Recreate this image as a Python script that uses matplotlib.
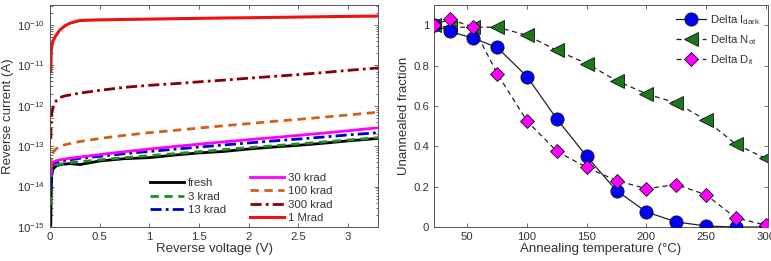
import matplotlib
matplotlib.use("Agg")
import matplotlib.pyplot as plt
import numpy as np
from matplotlib.ticker import FixedLocator, NullFormatter

plt.rcParams['font.family'] = ['Liberation Sans', 'DejaVu Sans']
plt.rcParams['mathtext.fontset'] = 'custom'
plt.rcParams['mathtext.rm'] = 'Liberation Sans'
plt.rcParams['mathtext.it'] = 'Liberation Sans:italic'

# ---------------- Left panel data ----------------
voltage = [0.008, 0.012, 0.018, 0.03, 0.06, 0.1, 0.15, 0.2, 0.3, 0.5, 0.75, 1.0,
           1.25, 1.5, 1.75, 2.0, 2.25, 2.5, 2.75, 3.0, 3.3]
i_fresh = [1.1e-15, 8e-15, 2e-14, 2.7e-14, 3.2e-14, 3.5e-14, 3.6e-14, 3.7e-14, 3.5e-14, 4.3e-14,
           4.9e-14, 5.2e-14, 6.0e-14, 6.8e-14, 7.4e-14, 8.5e-14, 9.5e-14, 1.05e-13, 1.18e-13, 1.35e-13, 1.55e-13]
i_3k = [3.5e-15, 1.5e-14, 2.5e-14, 3e-14, 3.4e-14, 3.6e-14, 3.7e-14, 3.9e-14, 4.1e-14, 4.6e-14,
        5.2e-14, 5.8e-14, 6.5e-14, 7.3e-14, 8.2e-14, 9.2e-14, 1.02e-13, 1.14e-13, 1.27e-13, 1.42e-13, 1.62e-13]
i_13k = [8e-15, 2e-14, 3e-14, 3.6e-14, 4e-14, 4.2e-14, 4.4e-14, 4.6e-14, 5e-14, 5.6e-14,
         6.5e-14, 7.4e-14, 8.4e-14, 9.5e-14, 1.07e-13, 1.2e-13, 1.35e-13, 1.5e-13, 1.68e-13, 1.9e-13, 2.15e-13]
i_30k = [2e-14, 3e-14, 3.6e-14, 4e-14, 4.3e-14, 4.6e-14, 4.8e-14, 5e-14, 5.4e-14, 6.2e-14,
         7.3e-14, 8.5e-14, 9.8e-14, 1.12e-13, 1.28e-13, 1.45e-13, 1.63e-13, 1.85e-13, 2.1e-13, 2.4e-13, 2.85e-13]
i_100k = [3e-14, 5e-14, 6e-14, 7e-14, 8.5e-14, 1e-13, 1.08e-13, 1.15e-13, 1.3e-13, 1.55e-13,
          1.85e-13, 2.15e-13, 2.45e-13, 2.8e-13, 3.2e-13, 3.6e-13, 4.1e-13, 4.6e-13, 5.2e-13, 5.9e-13, 6.9e-13]
i_300k = [1.5e-13, 4e-13, 6.5e-13, 9e-13, 1.3e-12, 1.6e-12, 1.75e-12, 1.85e-12, 2.05e-12, 2.4e-12,
          2.85e-12, 3.2e-12, 3.5e-12, 3.9e-12, 4.3e-12, 4.8e-12, 5.3e-12, 5.9e-12, 6.6e-12, 7.5e-12, 8.6e-12]
i_1M = [7e-12, 2e-11, 3e-11, 4e-11, 5.5e-11, 7.5e-11, 9.5e-11, 1.1e-10, 1.28e-10, 1.33e-10,
        1.36e-10, 1.39e-10, 1.42e-10, 1.45e-10, 1.48e-10, 1.5e-10, 1.53e-10, 1.56e-10, 1.59e-10, 1.62e-10, 1.65e-10]
current_ticks = [1e-15, 1e-14, 1e-13, 1e-12, 1e-11, 1e-10]
voltage_ticks = [0, 0.5, 1, 1.5, 2, 2.5, 3]
voltage_ticklabels = ['0', '0.5', '1', '1.5', '2', '2.5', '3']

# ---------------- Right panel data ----------------
anneal_temp = [22, 35, 55, 75, 100, 125, 150, 175, 200, 225, 250, 275, 300]
delta_idark = [1.0, 0.97, 0.935, 0.89, 0.745, 0.535, 0.35, 0.18, 0.075, 0.025, 0.005, 0.0, 0.0]
delta_not = [1.0, 0.99, 0.99, 0.99, 0.95, 0.875, 0.81, 0.725, 0.66, 0.615, 0.53, 0.41, 0.34]
delta_dit = [1.0, 1.03, 0.99, 0.76, 0.525, 0.375, 0.295, 0.23, 0.19, 0.21, 0.16, 0.045, 0.01]
temp_ticks = [50, 100, 150, 200, 250, 300]
frac_ticks = [0, 0.2, 0.4, 0.6, 0.8, 1.0]
frac_ticklabels = ['0', '0.2', '0.4', '0.6', '0.8', '1']

W, H = 771, 261
fig = plt.figure(figsize=(W / 100, H / 100), dpi=100)
fs = 8.2
lfs = 9.5
tc = '#333333'

def style(ax):
    for s in ax.spines.values():
        s.set_color('#555555')
        s.set_linewidth(0.7)
    ax.tick_params(direction='in', which='both', top=True, right=True,
                   labelsize=fs, colors='#555555', labelcolor=tc, width=0.6)
    ax.tick_params(which='major', length=3)
    ax.tick_params(which='minor', length=1.8)

# Left
ax1 = fig.add_axes([50 / W, 1 - 227 / H, (378 - 50) / W, (227 - 5) / H])
style(ax1)
l_fresh, = ax1.plot(voltage, i_fresh, color='black', lw=2.0, ls='-')
l_3k, = ax1.plot(voltage, i_3k, color='#1f8f1f', lw=2.0, ls=(0, (3, 2)))
l_13k, = ax1.plot(voltage, i_13k, color='#0000c0', lw=2.0, ls=(0, (4, 1.5, 1, 1.5)))
l_30k, = ax1.plot(voltage, i_30k, color='#ff00ff', lw=2.0, ls='-')
l_100k, = ax1.plot(voltage, i_100k, color='#d2601a', lw=2.0, ls=(0, (3, 2)))
l_300k, = ax1.plot(voltage, i_300k, color='#8b0000', lw=2.0, ls=(0, (4, 1.5, 1, 1.5)))
l_1M, = ax1.plot(voltage, i_1M, color='#ee1111', lw=2.2, ls='-')
ax1.set_yscale('log')
ax1.set_xlim(0, 3.3)
ax1.set_ylim(1e-15, 3.1e-10)
ax1.set_xticks(voltage_ticks)
ax1.set_xticklabels(voltage_ticklabels)
ax1.set_yticks(current_ticks)
minor = [m * 10.0 ** e for e in range(-15, -9) for m in range(2, 10) if m * 10.0 ** e <= 3.1e-10]
ax1.yaxis.set_minor_locator(FixedLocator(minor))
ax1.yaxis.set_minor_formatter(NullFormatter())
ax1.set_xlabel('Reverse voltage (V)', fontsize=lfs, color=tc, labelpad=1)
ax1.set_ylabel('Reverse current (A)', fontsize=lfs, color=tc, labelpad=2)

leg1 = ax1.legend([l_fresh, l_3k, l_13k], ['fresh', '3 krad', '13 krad'],
                  loc='lower left', bbox_to_anchor=(0.305, 0.054), frameon=False,
                  fontsize=fs, handlelength=3.0, handletextpad=0.3, labelspacing=0.3,
                  borderaxespad=0, borderpad=0, labelcolor=tc)
ax1.add_artist(leg1)
ax1.legend([l_30k, l_100k, l_300k, l_1M], ['30 krad', '100 krad', '300 krad', '1 Mrad'],
           loc='lower left', bbox_to_anchor=(0.61, 0.018), frameon=False,
           fontsize=fs, handlelength=3.0, handletextpad=0.3, labelspacing=0.3,
           borderaxespad=0, borderpad=0, labelcolor=tc)

# Right
ax2 = fig.add_axes([434 / W, 1 - 227 / H, (768 - 434) / W, (227 - 5) / H])
style(ax2)
ms = 9.5
ax2.plot(anneal_temp, delta_idark, color='#222222', lw=0.9, ls='-', marker='o',
         markersize=ms, markerfacecolor='#0000ff', markeredgecolor='#111111', markeredgewidth=0.6,
         label='Delta I$_{\\mathrm{dark}}$', zorder=3)
ax2.plot(anneal_temp, delta_not, color='#222222', lw=0.9, ls=(0, (4, 3)), marker='<',
         markersize=ms, markerfacecolor='#1a7a1a', markeredgecolor='#111111', markeredgewidth=0.6,
         label='Delta N$_{\\mathrm{ot}}$', zorder=2)
ax2.plot(anneal_temp, delta_dit, color='#222222', lw=0.9, ls=(0, (4, 3)), marker='D',
         markersize=ms * 0.8, markerfacecolor='#ff00ff', markeredgecolor='#111111', markeredgewidth=0.6,
         label='Delta D$_{\\mathrm{it}}$', zorder=4)
ax2.set_xlim(22, 302)
ax2.set_ylim(0, 1.1)
ax2.set_xticks(temp_ticks)
ax2.set_yticks(frac_ticks)
ax2.set_yticklabels(frac_ticklabels)
ax2.set_xlabel('Annealing temperature (°C)', fontsize=lfs, color=tc, labelpad=1)
ax2.set_ylabel('Unannealed fraction', fontsize=lfs, color=tc, labelpad=2)
ax2.legend(loc='upper right', frameon=False, fontsize=fs, handlelength=2.6,
           handletextpad=0.3, labelspacing=0.55, borderaxespad=0.3, labelcolor=tc)

fig.savefig('out.png', dpi=100)
